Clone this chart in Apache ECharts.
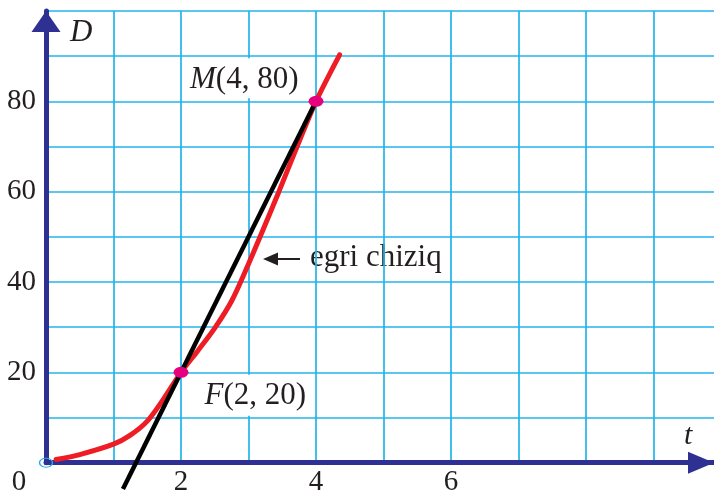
<!DOCTYPE html>
<html>
<head>
<meta charset="utf-8">
<script src="https://cdn.jsdelivr.net/npm/echarts@6/dist/echarts.min.js"></script>
<style>
  html, body { margin: 0; padding: 0; background: #ffffff; }
  #chart { width: 714px; height: 493px; }
</style>
</head>
<body>
<div id="chart"></div>
<script>
// Distance D against time t: the curve, the secant through F and M, and its two points.
const curveT = [0.15, 0.5, 1.0, 1.25, 1.5, 1.75, 2.0, 2.25, 2.5, 2.75, 3.0, 3.2, 3.45, 3.72, 4.0, 4.35];
const curveD = [0.7, 1.8, 4.1, 6.1, 9.2, 14.3, 20, 24.8, 29.8, 35.8, 44, 51, 60, 70, 80, 90.3];

const secantT = [1.14, 4.0];
const secantD = [-5.8, 80];

const pointNames = ['F', 'M'];
const pointT = [2, 4];
const pointD = [20, 80];

const xTickLabels = [0, 2, 4, 6];
const yTickLabels = [20, 40, 60, 80];

const SERIF = "'Liberation Serif', 'Times New Roman', serif";
const INK = '#231f20';
const NAVY = '#2e3192';
const GRIDBLUE = '#22b4ea';

const chart = echarts.init(document.getElementById('chart'), null, { renderer: 'canvas' });

const curveData = curveT.map((t, i) => [t, curveD[i]]);
const secantData = secantT.map((t, i) => [t, secantD[i]]);

const pointData = pointNames.map((n, i) => {
  const isLeft = n === 'M';
  return {
    name: n,
    value: [pointT[i], pointD[i]],
    label: isLeft
      ? { position: 'left', offset: [2, -23], padding: [6, 7, 3, 5] }
      : { position: 'right', offset: [4, 23], padding: [5, 9, 5, 7] }
  };
});

chart.setOption({
  animation: false,
  backgroundColor: '#ffffff',
  grid: { left: 46, right: -8, top: 11, bottom: 30.3, containLabel: false, outerBoundsMode: 'none' },
  xAxis: {
    type: 'value',
    min: 0,
    max: 10.015,
    interval: 1,
    axisLine: {
      show: true,
      onZero: false,
      symbol: ['none', 'triangle'],
      symbolSize: [22, 26],
      symbolOffset: [0, -21],
      lineStyle: { color: NAVY, width: 5 }
    },
    axisTick: { show: false },
    splitLine: { show: true, lineStyle: { color: GRIDBLUE, width: 1.7 } },
    axisLabel: {
      margin: 5,
      fontFamily: SERIF,
      fontSize: 29,
      color: INK,
      showMaxLabel: false,
      formatter: function (v) {
        if (v === 0) return '{zero|0}';
        return xTickLabels.indexOf(v) >= 0 ? String(v) : '';
      },
      rich: {
        zero: { fontFamily: SERIF, fontSize: 29, color: INK, padding: [0, 54, 0, 0] }
      }
    }
  },
  yAxis: {
    type: 'value',
    min: 0,
    max: 100,
    interval: 10,
    axisLine: {
      show: true,
      onZero: false,
      symbol: ['none', 'triangle'],
      symbolSize: [29, 21],
      symbolOffset: [0, -10.5],
      lineStyle: { color: NAVY, width: 5 }
    },
    axisTick: { show: false },
    splitLine: { show: true, lineStyle: { color: GRIDBLUE, width: 1.7 } },
    axisLabel: {
      margin: 10,
      fontFamily: SERIF,
      fontSize: 29,
      color: INK,
      formatter: function (v) {
        return yTickLabels.indexOf(v) >= 0 ? String(v) : '';
      }
    }
  },
  series: [
    {
      name: 'origin',
      type: 'scatter',
      data: [[0, 0]],
      symbol: 'circle',
      symbolSize: [13, 9],
      itemStyle: { color: 'rgba(0,0,0,0)', borderColor: '#29abe2', borderWidth: 1.2, opacity: 1 },
      z: 3,
      silent: true
    },
    {
      name: 'egri chiziq',
      type: 'line',
      data: curveData,
      smooth: 0.3,
      showSymbol: false,
      lineStyle: { color: '#ee1c25', width: 5, cap: 'round' },
      z: 4
    },
    {
      name: 'secant',
      type: 'line',
      data: secantData,
      clip: false,
      showSymbol: false,
      lineStyle: { color: '#000000', width: 4.5 },
      z: 5
    },
    {
      name: 'points',
      type: 'scatter',
      data: pointData,
      symbol: 'circle',
      symbolSize: [15, 11],
      itemStyle: { color: '#e6007e', opacity: 1 },
      z: 6,
      label: {
        show: true,
        distance: 5,
        fontFamily: SERIF,
        fontSize: 31,
        color: INK,
        opacity: 1,
        backgroundColor: '#ffffff',
        formatter: function (p) {
          return '{it|' + p.name + '}(' + p.value[0] + ', ' + p.value[1] + ')';
        },
        rich: {
          it: { fontFamily: SERIF, fontSize: 31, fontStyle: 'italic', color: INK }
        }
      }
    }
  ],
  graphic: [
    {
      type: 'text',
      left: 70,
      top: 17,
      style: { text: 'D', font: 'italic 31px ' + SERIF, fill: INK },
      z: 10
    },
    {
      type: 'text',
      left: 684,
      top: 421,
      style: { text: 't', font: 'italic 30px ' + SERIF, fill: INK },
      z: 10
    },
    {
      type: 'group',
      left: 262,
      top: 240,
      z: 10,
      children: [
        { type: 'rect', shape: { x: 0, y: 0, width: 187, height: 38 }, style: { fill: '#ffffff' } },
        { type: 'line', shape: { x1: 10, y1: 19, x2: 38, y2: 19 }, style: { stroke: INK, lineWidth: 2 } },
        { type: 'polygon', shape: { points: [[1, 19], [16, 12.5], [16, 25.5]] }, style: { fill: INK } },
        { type: 'text', x: 48, y: 2, style: { text: 'egri chiziq', font: '31px ' + SERIF, fill: INK } }
      ]
    }
  ]
});
</script>
</body>
</html>
